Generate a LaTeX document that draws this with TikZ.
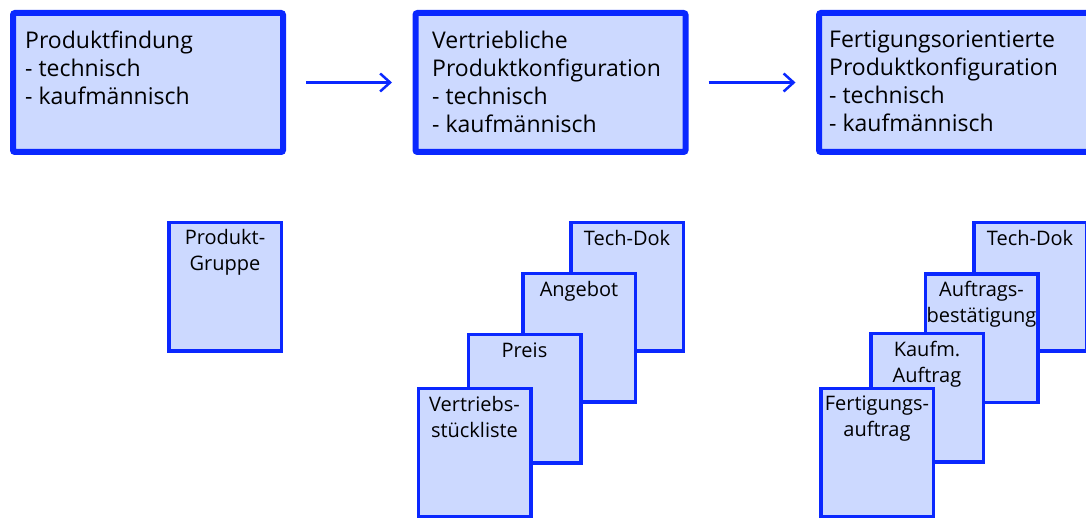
\documentclass[tikz,border=0pt]{standalone}
\usepackage{fontspec}
\setmainfont{Open Sans}
\usepackage{tikz}
\usetikzlibrary{positioning,arrows.meta}
\definecolor{rand}{RGB}{10,40,255}
\definecolor{fuell}{RGB}{204,217,255}
\tikzset{
  bigbox/.style={draw=rand, fill=fuell, line width=6pt, rounded corners=2pt,
                 minimum width=270pt, minimum height=139pt, inner sep=0pt},
  doc/.style={draw=rand, fill=fuell, line width=3.5pt,
              minimum width=112.5pt, minimum height=128.5pt, inner sep=0pt},
  boxtext/.style={anchor=north west, align=left, inner sep=0pt,
                  font=\fontsize{23}{28}\selectfont},
  doctext/.style={anchor=north, align=center, inner sep=0pt,
                  font=\fontsize{20}{26}\selectfont},
  pfeil/.style={draw=rand, line width=2.5pt, shorten <=20pt, shorten >=20.5pt,
                -{Straight Barb[length=10pt,width=18pt]}}
}

\begin{document}
\begin{tikzpicture}[x=1pt, y=1pt]
      \useasboundingbox (0, 0) rectangle (1086, 518);
      \clip (0, 0) rectangle (1086, 518);
      % obere Reihe
      \node [bigbox] (findung) at (148, 435.5) {};
      \node [bigbox] (vertrieb) at (550.5, 435.5) {};
      \node [bigbox] (fertigung) at (954, 435.5) {};
      \node [boxtext] (findungt) at (25, 487.5) {Produktfindung\\- technisch\\- kaufmännisch};
      \node [boxtext] (vertriebt) at (432, 487.5) {Vertriebliche\\Produktkonfiguration\\- technisch\\- kaufmännisch};
      \node [boxtext] (fertigungt) at (829, 487.5) {Fertigungsorientierte\\Produktkonfiguration\\- technisch\\- kaufmännisch};
      \draw [pfeil] (findung) -- (vertrieb);
      \draw [pfeil] (vertrieb) -- (fertigung);
      % Dokumente
      \node [doc] (gruppe) at (225, 231) {};
      \node [doc] (tdoka) at (627, 231) {};
      \node [doc] (angebot) at (579, 180) {};
      \node [doc] (preis) at (524.5, 119) {};
      \node [doc] (vliste) at (474.5, 65) {};
      \node [doc] (tdokb) at (1030, 231) {};
      \node [doc] (bestaet) at (981.5, 179.5) {};
      \node [doc] (kauf) at (927, 120) {};
      \node [doc] (fauftrag) at (877, 65) {};
      \node [doctext] (gruppet) at ([yshift=-8.5pt]gruppe.north) {Produkt-\\Gruppe};
      \node [doctext] (tdokat) at ([yshift=-9.5pt]tdoka.north) {Tech-Dok};
      \node [doctext] (angebott) at ([yshift=-9.5pt]angebot.north) {Angebot};
      \node [doctext] (preist) at ([yshift=-9.5pt]preis.north) {Preis};
      \node [doctext] (vlistet) at ([yshift=-9pt]vliste.north) {Vertriebs-\\stückliste};
      \node [doctext] (tdokbt) at ([yshift=-9.5pt]tdokb.north) {Tech-Dok};
      \node [doctext] (bestaett) at ([yshift=-9pt]bestaet.north) {Auftrags-\\bestätigung};
      \node [doctext] (kauft) at ([yshift=-9pt]kauf.north) {Kaufm.\\Auftrag};
      \node [doctext] (fauftragt) at ([yshift=-9pt]fauftrag.north) {Fertigungs-\\auftrag};
\end{tikzpicture}
\end{document}
